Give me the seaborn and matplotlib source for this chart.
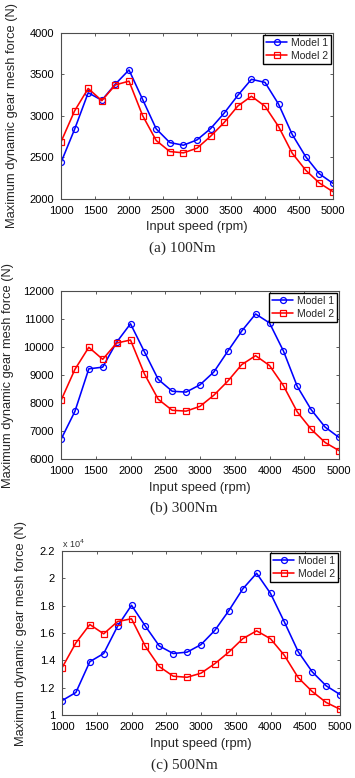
import numpy as np
import pandas as pd
import matplotlib
matplotlib.use("Agg")
import matplotlib.pyplot as plt
import seaborn as sns
from matplotlib.ticker import FuncFormatter

# ---- data ----
speed = list(range(1000, 5001, 200))

m1_100 = [2440, 2840, 3280, 3190, 3385, 3555, 3200, 2845, 2680, 2648, 2712,
          2848, 3035, 3248, 3442, 3405, 3142, 2778, 2508, 2303, 2188]
m2_100 = [2688, 3062, 3332, 3185, 3375, 3420, 3005, 2705, 2572, 2556, 2612,
          2756, 2922, 3120, 3238, 3118, 2872, 2552, 2346, 2192, 2088]

m1_300 = [6700, 7700, 9220, 9280, 10170, 10830, 9830, 8840, 8420, 8390, 8650,
          9110, 9850, 10570, 11180, 10860, 9860, 8590, 7760, 7140, 6770]
m2_300 = [8090, 9200, 9990, 9560, 10140, 10250, 9040, 8130, 7740, 7710, 7880,
          8280, 8780, 9370, 9690, 9340, 8620, 7680, 7060, 6590, 6300]

m1_500 = [11050, 11650, 13900, 14500, 16500, 18030, 16500, 15050, 14500, 14600, 15150,
          16200, 17630, 19220, 20370, 18900, 16800, 14620, 13160, 12140, 11500]
m2_500 = [13450, 15280, 16620, 15940, 16840, 17040, 15020, 13540, 12840, 12760, 13060,
          13760, 14600, 15580, 16160, 15580, 14360, 12720, 11720, 10920, 10420]

models = ["Model 1", "Model 2"]
captions = ["(a) 100Nm", "(b) 300Nm", "(c) 500Nm"]
ylims = [(2000, 4000), (6000, 12000), (10000, 22000)]
yticks = [np.arange(2000, 4001, 500), np.arange(6000, 12001, 1000), np.arange(10000, 22001, 2000)]
panels = [(m1_100, m2_100), (m1_300, m2_300), (m1_500, m2_500)]

sns.set_style("ticks")
plt.rcParams['font.family'] = ['Liberation Sans', 'DejaVu Sans']

colors = {"Model 1": "#0000ff", "Model 2": "#ff0000"}
markers = {"Model 1": "o", "Model 2": "s"}

fig = plt.figure(figsize=(3.55, 7.78), dpi=100)
H = 778.0
W = 355.0
# axes boxes in pixels: left, right, top, bottom
boxes = [(61, 333, 33, 199), (61, 339, 291, 459), (62, 340, 551, 715)]
ylab_x = [18, 14, 27]
cap_y = [248, 508, 765]
cap_x = [182, 184, 184]

for k, (vals, box) in enumerate(zip(panels, boxes)):
    l, r, t, b = box
    ax = fig.add_axes([l / W, 1 - b / H, (r - l) / W, (b - t) / H])
    df = pd.DataFrame({
        "speed": speed * 2,
        "force": list(vals[0]) + list(vals[1]),
        "model": [models[0]] * len(speed) + [models[1]] * len(speed),
    })
    sns.lineplot(data=df, x="speed", y="force", hue="model", style="model",
                 palette=colors, markers=markers, dashes=False, legend=False,
                 linewidth=1.15, markersize=4.3, ax=ax)
    for ln in ax.lines:
        ln.set_markerfacecolor("none")
        ln.set_markeredgecolor(ln.get_color())
        ln.set_markeredgewidth(0.9)

    ax.set_xlim(1000, 5000)
    ax.set_ylim(*ylims[k])
    ax.set_xticks(np.arange(1000, 5001, 500))
    ax.set_yticks(yticks[k])
    if k == 2:
        ax.yaxis.set_major_formatter(FuncFormatter(lambda v, p: f"{v / 1e4:g}"))
        ax.text(0.0, 1.005, r"x 10$^4$", transform=ax.transAxes, ha="left", va="bottom",
                fontsize=6.5, color="0.2")

    ax.tick_params(direction="in", length=2.5, width=0.6, labelsize=8, pad=5,
                   top=True, right=True, colors="0.25", labelcolor="black")
    for sp in ax.spines.values():
        sp.set_visible(True)
        sp.set_color("0.3")
        sp.set_linewidth(0.8)

    ax.set_xlabel("Input speed (rpm)", fontsize=9.3, labelpad=4)
    ax.set_ylabel("Maximum dynamic gear mesh force (N)", fontsize=9.3)
    ax.yaxis.set_label_coords((ylab_x[k] - l) / (r - l), 0.5)

    ax.legend(handles=ax.lines[:2], labels=models, loc="upper right", fontsize=7.5,
              frameon=True, fancybox=False, framealpha=1, edgecolor="black",
              borderaxespad=0.15, handlelength=2.0, handletextpad=0.4,
              borderpad=0.3, labelspacing=0.3)

    fig.text(cap_x[k] / W, 1 - cap_y[k] / H, captions[k], ha="center", va="center",
             fontsize=11, family=["Liberation Serif", "DejaVu Serif"])

fig.savefig("out.png", dpi=100)
